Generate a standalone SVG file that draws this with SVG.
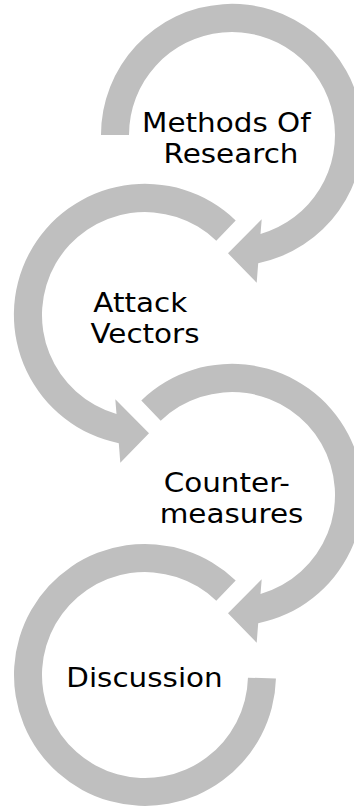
<svg xmlns="http://www.w3.org/2000/svg" width="354" height="807" viewBox="0 0 354 807">
  <style>
    .ring { fill: #bfbfbf; stroke: none; }
    .label { font-family: "DejaVu Sans", Verdana, sans-serif; font-size: 27px; fill: #000000; text-anchor: middle; }
  </style>
  <defs>
    <!-- Ring open at 9 o'clock, running clockwise to an arrowhead near 6 o'clock -->
    <path id="arrow-first" d="M -131 0 A 131 131 0 1 1 26.2 128.2 L 24.7 147.7 L -4 118.3 L 29.7 84.3 L 28.5 99 A 103 103 0 1 0 -103 0 Z"/>
    <!-- Same ring, but starting at the upper left to leave room for the incoming head -->
    <path id="arrow-mid" d="M -90.7 -94.6 A 131 131 0 1 1 26.2 128.2 L 24.7 147.7 L -4 118.3 L 29.7 84.3 L 28.5 99 A 103 103 0 1 0 -71.3 -74.3 Z"/>
    <!-- Closing ring without a head: from the upper right round to 3 o'clock -->
    <path id="arrow-last" d="M 90.7 -94.6 A 131 131 0 1 0 130.95 3.4 L 102.96 2.7 A 103 103 0 1 1 71.3 -74.3 Z"/>
  </defs>

  <!-- No separate connector lines: each ring's arrowhead leads into the next step -->
  <g id="connectors"></g>

  <g id="node-methods">
    <use href="#arrow-first" class="ring" transform="translate(232,135)"/>
    <text class="label" transform="translate(231,0) scale(1.09,1)">
      <tspan x="0" y="131.7">Methods Of</tspan>
      <tspan x="0" y="163.3">Research</tspan>
    </text>
  </g>

  <g id="node-attack">
    <use href="#arrow-mid" class="ring" transform="translate(145,315) scale(-1,1)"/>
    <text class="label" transform="translate(145,0) scale(1.09,1)">
      <tspan x="0" y="311.7">Attack</tspan>
      <tspan x="0" y="343.3">Vectors</tspan>
    </text>
  </g>

  <g id="node-countermeasures">
    <use href="#arrow-mid" class="ring" transform="translate(232,495)"/>
    <text class="label" transform="translate(231.5,0) scale(1.09,1)">
      <tspan x="0" y="491.7">Counter-</tspan>
      <tspan x="0" y="523.3">measures</tspan>
    </text>
  </g>

  <g id="node-discussion">
    <use href="#arrow-last" class="ring" transform="translate(145,675)"/>
    <text class="label" transform="translate(144.5,0) scale(1.09,1)">
      <tspan x="0" y="687.3">Discussion</tspan>
    </text>
  </g>
</svg>
